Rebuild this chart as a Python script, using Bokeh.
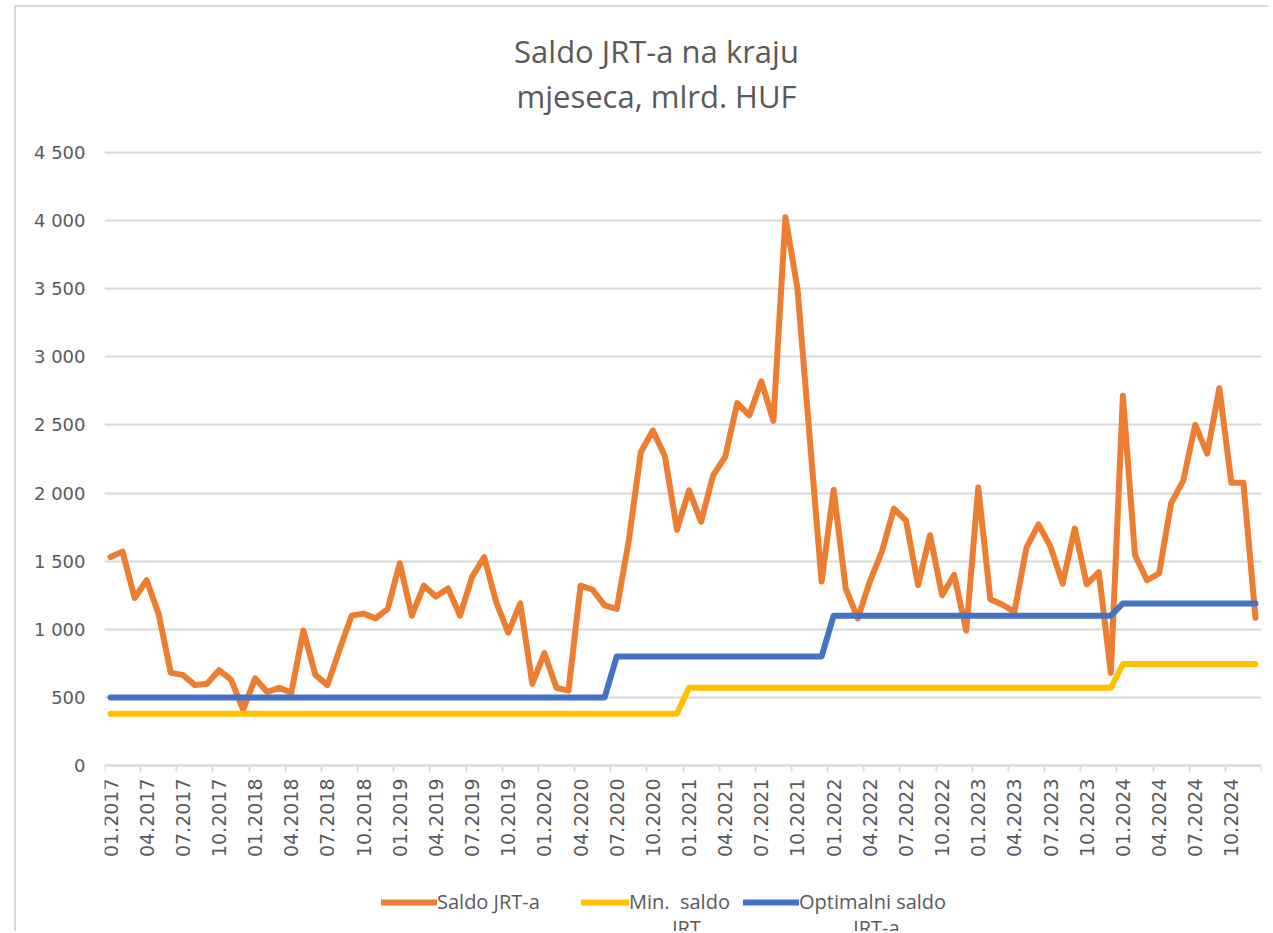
import math
from bokeh.plotting import figure
from bokeh.models import Range1d, FixedTicker, Label, Legend, LegendItem
from bokeh.embed import file_html
from bokeh.resources import INLINE

# ---------------- data ----------------
x_tick_labels = ["01.2017", "04.2017", "07.2017", "10.2017",
                 "01.2018", "04.2018", "07.2018", "10.2018",
                 "01.2019", "04.2019", "07.2019", "10.2019",
                 "01.2020", "04.2020", "07.2020", "10.2020",
                 "01.2021", "04.2021", "07.2021", "10.2021",
                 "01.2022", "04.2022", "07.2022", "10.2022",
                 "01.2023", "04.2023", "07.2023", "10.2023",
                 "01.2024", "04.2024", "07.2024", "10.2024"]

y_ticks = [0, 500, 1000, 1500, 2000, 2500, 3000, 3500, 4000, 4500]
y_tick_labels = ["0", "500", "1 000", "1 500", "2 000", "2 500",
                 "3 000", "3 500", "4 000", "4 500"]

# monthly values 01.2017 .. 12.2024 (mlrd. HUF)
saldo = [1530, 1570, 1230, 1360, 1110, 680, 665, 590, 600, 700, 630, 410,
         640, 540, 570, 535, 990, 665, 590, 850, 1100, 1115, 1080, 1150,
         1485, 1100, 1320, 1240, 1300, 1100, 1385, 1530, 1200, 975, 1190, 600,
         825, 570, 550, 1320, 1290, 1175, 1150, 1650, 2300, 2460, 2270, 1730,
         2020, 1790, 2130, 2265, 2660, 2570, 2820, 2530, 4025, 3500, 2420, 1350,
         2025, 1300, 1080, 1350, 1570, 1885, 1800, 1325, 1690, 1250, 1400, 990,
         2040, 1220, 1180, 1130, 1600, 1770, 1605, 1335, 1740, 1330, 1420, 680,
         2715, 1545, 1360, 1410, 1925, 2090, 2500, 2290, 2770, 2075, 2075, 1085]

min_saldo = [380, 380, 380, 380, 380, 380, 380, 380, 380, 380, 380, 380,
             380, 380, 380, 380, 380, 380, 380, 380, 380, 380, 380, 380,
             380, 380, 380, 380, 380, 380, 380, 380, 380, 380, 380, 380,
             380, 380, 380, 380, 380, 380, 380, 380, 380, 380, 380, 380,
             570, 570, 570, 570, 570, 570, 570, 570, 570, 570, 570, 570,
             570, 570, 570, 570, 570, 570, 570, 570, 570, 570, 570, 570,
             570, 570, 570, 570, 570, 570, 570, 570, 570, 570, 570, 570,
             745, 745, 745, 745, 745, 745, 745, 745, 745, 745, 745, 745]

opt_saldo = [500, 500, 500, 500, 500, 500, 500, 500, 500, 500, 500, 500,
             500, 500, 500, 500, 500, 500, 500, 500, 500, 500, 500, 500,
             500, 500, 500, 500, 500, 500, 500, 500, 500, 500, 500, 500,
             500, 500, 500, 500, 500, 500, 800, 800, 800, 800, 800, 800,
             800, 800, 800, 800, 800, 800, 800, 800, 800, 800, 800, 800,
             1100, 1100, 1100, 1100, 1100, 1100, 1100, 1100, 1100, 1100, 1100, 1100,
             1100, 1100, 1100, 1100, 1100, 1100, 1100, 1100, 1100, 1100, 1100, 1100,
             1190, 1190, 1190, 1190, 1190, 1190, 1190, 1190, 1190, 1190, 1190, 1190]

series_names = ["Saldo JRT-a", "Min.  saldo", "Optimalni saldo"]
series_second_line = ["", "JRT", "JRT-a"]
title_lines = ["Saldo JRT-a na kraju", "mjeseca, mlrd. HUF"]

months = list(range(len(saldo)))

# ---------------- layout (page pixels) ----------------
CANVAS_L, CANVAS_T = 16, 7          # after CSS margin + 2px border
W, H = 1254, 926
FRAME_L, FRAME_R = 104, 1261        # plot area left/right
FRAME_T, FRAME_B = CANVAS_T, CANVAS_T + H   # frame spans whole height
AX_T, AX_B = 152, 765               # pixel rows of 4500 and 0
X0, X1 = -0.5, len(saldo) - 0.5
V_TOP = 4500


def px_x(px):
    return X0 + (px - FRAME_L) / (FRAME_R - FRAME_L) * (X1 - X0)


def px_y(py):
    return (AX_B - py) / (AX_B - AX_T) * V_TOP


TEXT = "#595959"
GRID = "#d9d9d9"
ORANGE = "#ED7D31"
YELLOW = "#FFC000"
BLUE = "#4472C4"
LW = 6

p = figure(width=W, height=H, output_backend="svg", toolbar_location=None,
           x_range=Range1d(X0, X1), y_range=Range1d(px_y(FRAME_B), px_y(FRAME_T)),
           min_border_left=FRAME_L - CANVAS_L,
           min_border_right=CANVAS_L + W - FRAME_R,
           min_border_top=0, min_border_bottom=0)
p.styles = {"margin-left": "14px", "margin-top": "5px",
            "border-left": "2px solid #d9d9d9",
            "border-top": "2px solid #d9d9d9"}
p.outline_line_color = None
p.background_fill_color = "white"
p.border_fill_color = "white"

# grid
p.xgrid.grid_line_color = None
p.ygrid.ticker = FixedTicker(ticks=y_ticks)
p.ygrid.grid_line_color = GRID
p.ygrid.grid_line_width = 2

# y axis
p.yaxis.ticker = FixedTicker(ticks=y_ticks)
p.yaxis.major_label_overrides = {t: s for t, s in zip(y_ticks, y_tick_labels)}
p.yaxis.axis_line_color = None
p.yaxis.major_tick_line_color = None
p.yaxis.major_tick_out = 0
p.yaxis.major_tick_in = 0
p.yaxis.minor_tick_line_color = None
p.yaxis.major_label_standoff = 19
p.yaxis.major_label_text_font = "DejaVu Sans"
p.yaxis.major_label_text_font_size = "18px"
p.yaxis.major_label_text_color = TEXT

# x axis (pinned at value 0)
label_pos = [3 * i for i in range(len(x_tick_labels))]
bounds = [3 * i - 0.5 for i in range(len(x_tick_labels) + 1)]
p.xaxis.fixed_location = 0
p.xaxis.ticker = FixedTicker(ticks=label_pos, minor_ticks=bounds)
p.xaxis.major_label_overrides = {t: s for t, s in zip(label_pos, x_tick_labels)}
p.xaxis.major_label_orientation = math.pi / 2
p.xaxis.axis_line_color = GRID
p.xaxis.axis_line_width = 2
p.xaxis.major_tick_out = 0
p.xaxis.major_tick_in = 0
p.xaxis.major_tick_line_color = None
p.xaxis.minor_tick_out = 6
p.xaxis.minor_tick_in = 0
p.xaxis.minor_tick_line_color = GRID
p.xaxis.minor_tick_line_width = 2
p.xaxis.major_label_standoff = 7
p.xaxis.major_label_text_font = "DejaVu Sans"
p.xaxis.major_label_text_font_size = "19px"
p.xaxis.major_label_text_color = TEXT

# series
r_saldo = p.line(months, saldo, line_color=ORANGE, line_width=LW,
                 line_join="round", line_cap="round")
r_min = p.line(months, min_saldo, line_color=YELLOW, line_width=LW,
               line_join="round", line_cap="round")
r_opt = p.line(months, opt_saldo, line_color=BLUE, line_width=LW,
               line_join="round", line_cap="round")

# title
for txt, yy in zip(title_lines, [50, 95]):
    p.add_layout(Label(x=px_x(656), y=px_y(yy), text=txt,
                       text_align="center", text_baseline="alphabetic",
                       text_font="Open Sans", text_font_size="31px",
                       text_color=TEXT))

# legend (one legend per entry for exact placement)
leg_x = [381, 581, 743]
leg_gw = [56, 48, 56]
item_h = 26
for r, name, lx, gw in zip([r_saldo, r_min, r_opt], series_names, leg_x, leg_gw):
    lg = Legend(items=[LegendItem(label=name, renderers=[r])],
                location=(lx - FRAME_L, FRAME_B - (902 + item_h / 2)),
                orientation="horizontal", padding=0, margin=0, spacing=0,
                glyph_width=gw, glyph_height=item_h, label_height=item_h,
                label_standoff=0, border_line_color=None,
                background_fill_alpha=0,
                label_text_font="Open Sans", label_text_font_size="20px",
                label_text_color=TEXT)
    p.add_layout(lg)

for txt, cx in zip(series_second_line, [0, 686, 876]):
    if txt:
        p.add_layout(Label(x=px_x(cx), y=px_y(927), text=txt,
                           text_align="center", text_baseline="alphabetic",
                           text_font="Open Sans", text_font_size="20px",
                           text_color=TEXT))

open("out.html", "w").write(file_html(p, INLINE))
